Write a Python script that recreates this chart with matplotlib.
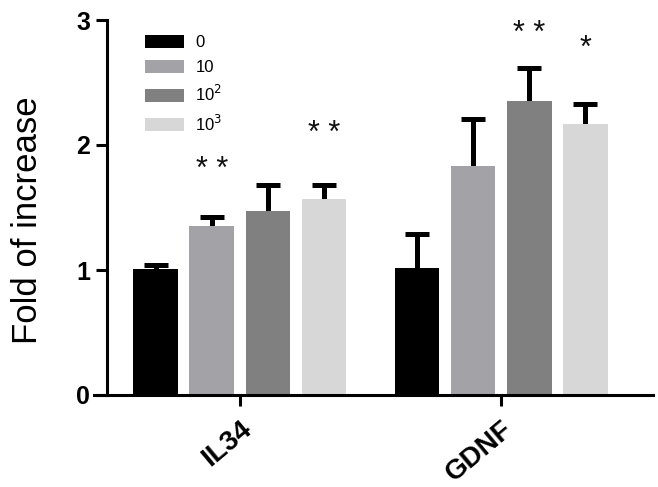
import matplotlib
matplotlib.use("Agg")
import matplotlib.pyplot as plt
import numpy as np
from matplotlib.patches import Patch

plt.rcParams['font.family'] = ['Liberation Sans', 'DejaVu Sans']

genes = ["IL34", "GDNF"]
doses = ["0", "10", "10$^2$", "10$^3$"]
colors = ["#000000", "#a3a3a7", "#808080", "#d7d7d7"]
means = {
    "0":   [1.01, 1.02],
    "10":  [1.35, 1.83],
    "100": [1.47, 2.35],
    "1000": [1.57, 2.17],
}
errs = {
    "0":   [0.03, 0.27],
    "10":  [0.07, 0.38],
    "100": [0.21, 0.27],
    "1000": [0.11, 0.16],
}
keys = ["0", "10", "100", "1000"]
# significance marks: (gene index, dose index, text, y)
sig = [(0, 1, "* *", 1.80), (0, 3, "* *", 2.09), (1, 2, "* *", 2.89), (1, 3, "*", 2.77)]

fig = plt.figure(figsize=(6.58, 4.87), dpi=100)
ax = fig.add_axes([94/658, 1-395/487, (653-94)/658, 375/487])

for s in ['top', 'right']:
    ax.spines[s].set_visible(False)
ax.spines['left'].set_position(('data', -0.51))
ax.spines['left'].set_linewidth(2.2)
ax.spines['bottom'].set_linewidth(2.2)

x = np.arange(len(genes))
spacing = 0.2146
width = 0.172
for i, k in enumerate(keys):
    pos = x + (i - 1.5) * spacing
    m = np.array(means[k])
    e = np.array(errs[k])
    ax.bar(pos, m, width=width, color=colors[i], zorder=2)
    ax.vlines(pos, m, m + e, color='black', linewidth=3.6, zorder=1)
    ax.plot(pos, m + e, linestyle='none', marker='_', markersize=17,
            markeredgewidth=3.6, color='black', zorder=1)

for gi, di, txt, yy in sig:
    xx = x[gi] + (di - 1.5) * spacing
    ax.text(xx, yy, txt, ha='center', va='center', fontsize=22, color='#111111')

ax.set_xlim(-0.559, 1.582)
ax.set_ylim(0, 3)
ax.set_yticks([0, 1, 2, 3])
ax.set_yticklabels(["0", "1", "2", "3"], fontsize=18, fontweight='bold')
ax.set_xticks(x)
ax.set_xticklabels(genes, fontsize=20, fontweight='bold', rotation=40, ha='right',
                   rotation_mode='anchor')
ax.set_ylabel("Fold of increase", fontsize=25)
ax.yaxis.set_label_coords(-0.089, 0.467)

ax.tick_params(axis='both', width=2.2, length=8, direction='out')
ax.tick_params(axis='x', pad=7)
ax.tick_params(axis='y', pad=4)

handles = [Patch(facecolor=c, edgecolor='none') for c in colors]
ax.legend(handles, doses, loc='upper left', bbox_to_anchor=(0.065, 1.0), frameon=False,
          fontsize=12, handlelength=2.3, handleheight=0.85, labelspacing=0.55,
          handletextpad=0.7)

fig.savefig("out.png", dpi=100)
